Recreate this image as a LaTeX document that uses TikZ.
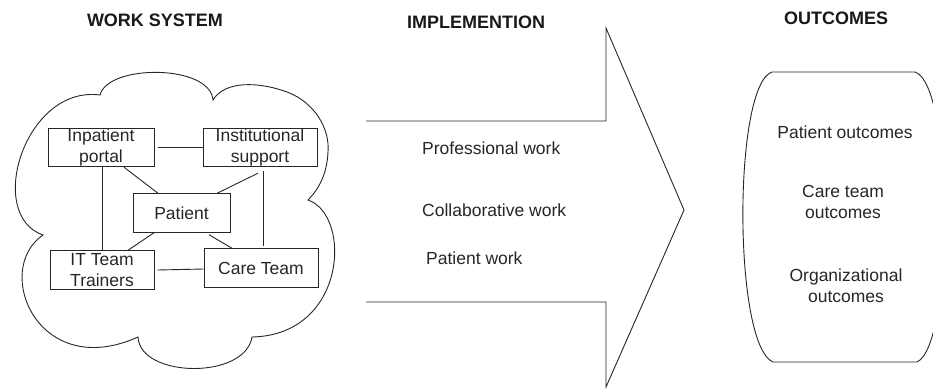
\documentclass[tikz,border=0pt]{standalone}
\usepackage{fontspec}
\setmainfont{Liberation Sans}
\begin{document}
\begin{tikzpicture}[x=1pt,y=-1pt,
  line/.style={draw=black!85,line width=0.9pt},
  body/.style={text=black!85,font=\fontsize{17.5}{21}\selectfont,inner sep=0pt,align=center},
  title/.style={text=black!90,font=\fontsize{18}{20}\selectfont\bfseries,inner sep=0pt},
  wbox/.style={body,draw=black!85,line width=0.9pt,minimum height=38.5pt}
]
\useasboundingbox (0,0) rectangle (933,389);
% titles
\node[title] (t1) at (155,20) {WORK SYSTEM};
\node[title] (t2) at (476,22) {IMPLEMENTION};
\node[title] (t3) at (836,18) {OUTCOMES};
% cloud
\draw[line] (100,95) .. controls (108,64) and (210,64) .. (213,100)
  .. controls (225,80) and (260,82) .. (287,92)
  .. controls (314,102) and (330,128) .. (328,152)
  .. controls (327,175) and (318,190) .. (308,200)
  .. controls (352,215) and (347,335) .. (252,337)
  .. controls (245,380) and (140,378) .. (138,337)
  .. controls (38,382) and (-8,270) .. (43,235)
  .. controls (-15,215) and (25,85) .. (100,95) -- cycle;
% boxes
\node[wbox,minimum width=106pt] (ip) at (101,147.5) {Inpatient\\portal};
\node[wbox,minimum width=114pt] (is) at (260,147.5) {Institutional\\support};
\node[wbox,minimum width=97pt] (pt) at (181.5,213) {Patient};
\node[wbox,minimum width=104pt] (it) at (102,270) {IT Team\\Trainers};
\node[wbox,minimum width=114pt] (ct) at (261,268) {Care Team};
% connectors
\draw[line] ([xshift=4pt]ip.east) -- (is.west);
\draw[line] ([xshift=23pt]ip.south) -- ([xshift=-23.5pt]pt.north);
\draw[line] ([xshift=-2pt,yshift=-6pt]is.south) -- ([xshift=35.5pt]pt.north);
\draw[line] ([xshift=1pt]ip.south) -- (it.north);
\draw[line] ([xshift=3pt,yshift=-4pt]is.south) -- ([xshift=2pt,yshift=2pt]ct.north);
\draw[line] ([xshift=-27.5pt]pt.south) -- ([xshift=26pt]it.north);
\draw[line] ([xshift=27.5pt,yshift=-2pt]pt.south) -- ([xshift=-29pt]ct.north);
\draw[line] ([xshift=3pt]it.east) -- ([yshift=-1pt]ct.west);
% implementation arrow
\draw[line,line join=miter] (366,121) -- (606,121) -- (606,28) -- (684,210) -- (606,387) -- (606,302) -- (366,302);
\node[body,anchor=west] (w1) at (422,148) {Professional work};
\node[body,anchor=west] (w2) at (422,210) {Collaborative work};
\node[body,anchor=west] (w3) at (426,258) {Patient work};
% outcomes
\draw[line] (772,72) -- (915,72) .. controls (954,85) and (954,345) .. (917,362)
  -- (773,362) .. controls (733,345) and (733,85) .. (772,72) -- cycle;
\node[body] (o1) at (845,132) {Patient outcomes};
\node[body] (o2) at (843,202) {Care team\\outcomes};
\node[body] (o3) at (846,286) {Organizational\\outcomes};
\end{tikzpicture}
\end{document}
